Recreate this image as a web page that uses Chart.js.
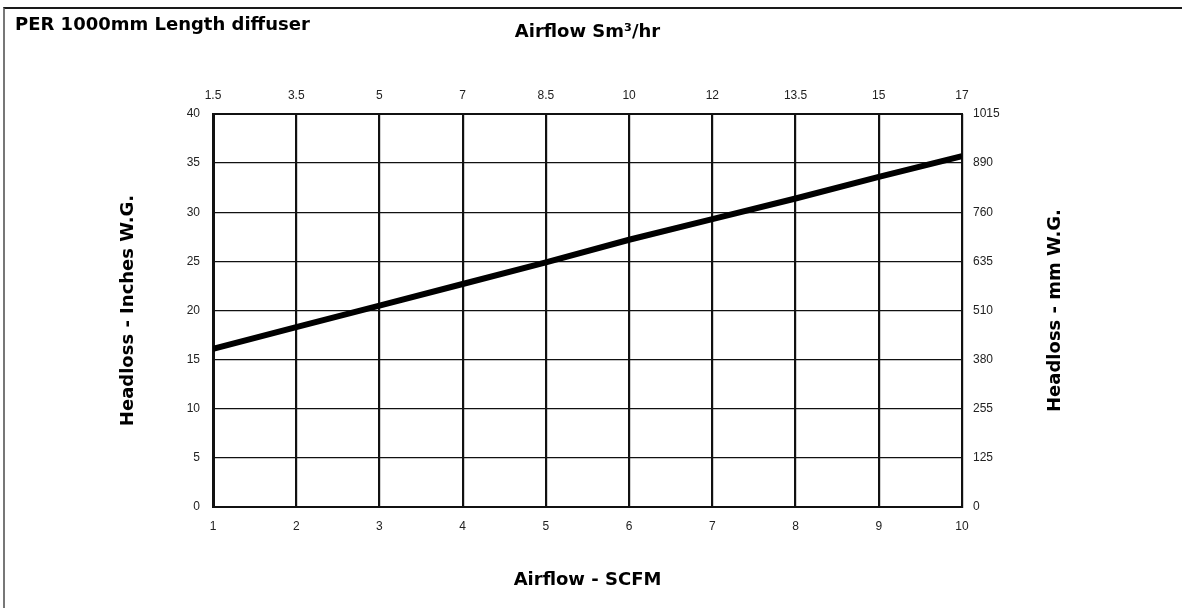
<!DOCTYPE html>
<html>
<head>
<meta charset="utf-8">
<script src="https://cdn.jsdelivr.net/npm/chart.js@4/dist/chart.umd.min.js"></script>
<style>
  body { margin: 0; background: #fff; }
  .wrap { position: relative; width: 1182px; height: 608px; }
  .frame { position: absolute; left: 3px; top: 7px; right: 0; bottom: 0;
           border-top: 2px solid #1a1a1a; border-left: 2px solid #777; pointer-events: none; }
  .heading { position: absolute; left: 15px; top: 14px; font: bold 18px "DejaVu Sans"; line-height: 20px; color: #000; }
</style>
</head>
<body>
<div class="wrap">
  <canvas id="headloss-chart"></canvas>
  <div class="frame"></div>
  <div class="heading">PER 1000mm Length diffuser</div>
</div>
<script>
// airflow in SCFM (bottom axis) and the matching Sm3/hr labels (top axis)
var airflowScfm = [1, 2, 3, 4, 5, 6, 7, 8, 9, 10];
var airflowSm3Labels = ['1.5', '3.5', '5', '7', '8.5', '10', '12', '13.5', '15', '17'];
// headloss in inches W.G.
var headlossInches = [16.1, 18.3, 20.5, 22.7, 24.9, 27.2, 29.3, 31.4, 33.6, 35.7];
// right axis labels, mm W.G.
var headlossMmLabels = ['0', '125', '255', '380', '510', '635', '760', '890', '1015'];
var rightTitle = 'Headloss - mm W.G.';

var points = airflowScfm.map(function(x, i) { return {x: x, y: headlossInches[i]}; });

var tickFont = {family: 'Liberation Sans', size: 12};
var titleFont = {family: 'DejaVu Sans', size: 18, weight: 'bold', lineHeight: 1.2};

// right axis title reads bottom-to-top like the left one, chart.js turns it the other way
var rightTitlePlugin = {
  id: 'rightTitle',
  afterDraw: function(chart) {
    var s = chart.scales.y2;
    var c = chart.ctx;
    c.save();
    c.translate(s.right - 127, (s.top + s.bottom) / 2);
    c.rotate(-Math.PI / 2);
    c.font = 'bold 18px "DejaVu Sans"';
    c.fillStyle = '#000';
    c.textAlign = 'center';
    c.textBaseline = 'middle';
    c.fillText(rightTitle, 0, 0);
    c.restore();
  }
};

var config = {
  type: 'line',
  data: {
    datasets: [{
      data: points,
      borderColor: '#000',
      borderWidth: 6,
      borderCapStyle: 'butt',
      pointRadius: 0,
      tension: 0,
      fill: false
    }]
  },
  options: {
    responsive: true,
    maintainAspectRatio: false,
    animation: false,
    layout: {padding: 0},
    plugins: {
      legend: {display: false},
      title: {display: false},
      tooltip: {enabled: false}
    },
    scales: {
      x: {
        type: 'linear', position: 'bottom', min: 1, max: 10,
        ticks: {stepSize: 1, padding: 12, color: '#222', font: tickFont, maxRotation: 0},
        grid: {color: '#111', lineWidth: 2.2, drawTicks: false},
        border: {color: '#111', width: 2},
        title: {display: true, text: 'Airflow - SCFM', color: '#000', font: titleFont, padding: {bottom: 17}},
        afterFit: function(scale) { scale.height = 101; }
      },
      x2: {
        type: 'linear', position: 'top', min: 1, max: 10,
        ticks: {
          stepSize: 1, padding: 11, color: '#222', font: tickFont, maxRotation: 0,
          callback: function(v, i) { return airflowSm3Labels[i]; }
        },
        grid: {display: false, drawTicks: false},
        border: {color: '#111', width: 2},
        title: {display: true, text: 'Airflow Sm³/hr', color: '#000', font: titleFont, padding: {top: 22}},
        afterFit: function(scale) { scale.height = 114; }
      },
      y: {
        type: 'linear', position: 'left', min: 0, max: 40,
        ticks: {stepSize: 5, padding: 13, color: '#222', font: tickFont},
        grid: {color: '#111', lineWidth: 1.3, drawTicks: false},
        border: {color: '#111', width: 3},
        title: {display: true, text: 'Headloss - Inches W.G.', color: '#000', font: titleFont, padding: {top: 118}},
        afterFit: function(scale) { scale.width = 213; }
      },
      y2: {
        type: 'linear', position: 'right', min: 0, max: 40,
        ticks: {
          stepSize: 5, padding: 11, color: '#222', font: tickFont,
          callback: function(v, i) { return headlossMmLabels[i]; }
        },
        grid: {display: false, drawTicks: false},
        border: {color: '#111', width: 2},
        title: {display: false},
        afterFit: function(scale) { scale.width = 220; }
      }
    }
  },
  plugins: [rightTitlePlugin]
};

window.onload = function() {
  var ctx = document.getElementById('headloss-chart').getContext('2d');
  window.headlossChart = new Chart(ctx, config);
};
</script>
</body>
</html>
